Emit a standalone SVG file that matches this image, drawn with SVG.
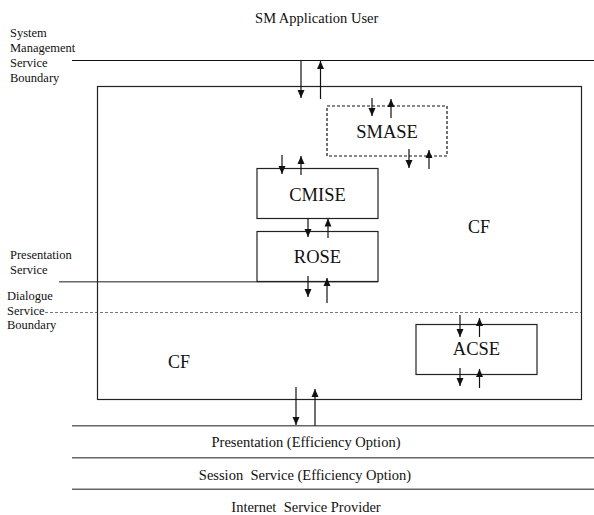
<svg xmlns="http://www.w3.org/2000/svg" width="594" height="515" viewBox="0 0 594 515" font-family="'Liberation Serif', 'Times New Roman', 'DejaVu Serif', serif">
<style>
text{font-family:'Liberation Serif','Times New Roman','DejaVu Serif',serif;fill:#111}
.lbl{font-size:12.5px}
.big{font-size:14.5px}
.node{font-size:18.5px;text-anchor:middle}
.box{fill:none;stroke:#222;stroke-width:1.2}
.arr{stroke:#111;stroke-width:1.2;fill:none;marker-end:url(#ah)}
.gl{stroke:#666;stroke-width:1.5}
</style>
<defs>
<marker id="ah" markerUnits="userSpaceOnUse" markerWidth="8" markerHeight="10" viewBox="0 0 8 10" refX="8" refY="4" orient="auto">
<path d="M0,0.5 L8,4 L0,7.5 Z" fill="#111"/>
</marker>
</defs>
<rect width="594" height="515" fill="#fff"/>
<g id="boundaries">
<line x1="72" y1="60.5" x2="594" y2="60.5" stroke="#111" stroke-width="1.2"/>
<line x1="59" y1="281.7" x2="378" y2="281.7" class="gl"/>
<line x1="45" y1="312.5" x2="581" y2="312.5" stroke="#777" stroke-width="1" stroke-dasharray="3,2"/>
<line x1="72" y1="425.7" x2="594" y2="425.7" class="gl"/>
<line x1="72" y1="457.7" x2="594" y2="457.7" class="gl"/>
<line x1="72" y1="489.3" x2="594" y2="489.3" class="gl"/>
</g>
<g id="labels">
<text x="316.7" y="23" class="big" text-anchor="middle">SM Application User</text>
<text x="10" y="37" class="lbl">System</text>
<text x="10" y="52" class="lbl">Management</text>
<text x="10" y="67" class="lbl">Service</text>
<text x="10" y="82" class="lbl">Boundary</text>
<text x="10" y="259" class="lbl">Presentation</text>
<text x="10" y="274" class="lbl">Service</text>
<text x="7" y="300" class="lbl">Dialogue</text>
<text x="7" y="315" class="lbl">Service</text>
<text x="7" y="329" class="lbl">Boundary</text>
<text x="306" y="447" class="big" text-anchor="middle">Presentation (Efficiency Option)</text>
<text x="305" y="480" class="big" text-anchor="middle" style="white-space:pre">Session  Service (Efficiency Option)</text>
<text x="306" y="512" class="big" text-anchor="middle" style="white-space:pre">Internet  Service Provider</text>
</g>
<g id="CF-frame">
<rect x="97.5" y="86.5" width="484" height="313" class="box"/>
<text x="468" y="233" font-size="18">CF</text>
<text x="168" y="368" font-size="18">CF</text>
</g>
<g id="SMASE">
<rect x="327" y="106" width="120" height="50" fill="none" stroke="#111" stroke-width="1.2" stroke-dasharray="3,2"/>
<text x="387" y="137.5" class="node">SMASE</text>
</g>
<g id="CMISE">
<rect x="257" y="168.5" width="121" height="50" class="box"/>
<text x="317.5" y="200.5" class="node">CMISE</text>
</g>
<g id="ROSE">
<rect x="257" y="231.5" width="121" height="50" class="box"/>
<text x="317.5" y="262.7" class="node">ROSE</text>
</g>
<g id="ACSE">
<rect x="416" y="324.5" width="121" height="50" class="box"/>
<text x="476.5" y="355" class="node">ACSE</text>
</g>
<g id="connectors">
<line x1="301" y1="60.5" x2="301" y2="98" class="arr"/>
<line x1="320.5" y1="99" x2="320.5" y2="61" class="arr"/>
<line x1="372" y1="98" x2="372" y2="116" class="arr"/>
<line x1="391" y1="118" x2="391" y2="99" class="arr"/>
<line x1="409" y1="149" x2="409" y2="168" class="arr"/>
<line x1="429" y1="169" x2="429" y2="150" class="arr"/>
<line x1="282" y1="155" x2="282" y2="174" class="arr"/>
<line x1="301" y1="175" x2="301" y2="156" class="arr"/>
<line x1="308" y1="218.5" x2="308" y2="237" class="arr"/>
<line x1="328" y1="238" x2="328" y2="218.5" class="arr"/>
<line x1="308" y1="276" x2="308" y2="297" class="arr"/>
<line x1="327" y1="303" x2="327" y2="278" class="arr"/>
<line x1="460" y1="315" x2="460" y2="337" class="arr"/>
<line x1="479.5" y1="337" x2="479.5" y2="318" class="arr"/>
<line x1="460" y1="368" x2="460" y2="386" class="arr"/>
<line x1="479.5" y1="388" x2="479.5" y2="369" class="arr"/>
<line x1="296" y1="387" x2="296" y2="425" class="arr"/>
<line x1="315" y1="425.7" x2="315" y2="389" class="arr"/>
</g>
</svg>
